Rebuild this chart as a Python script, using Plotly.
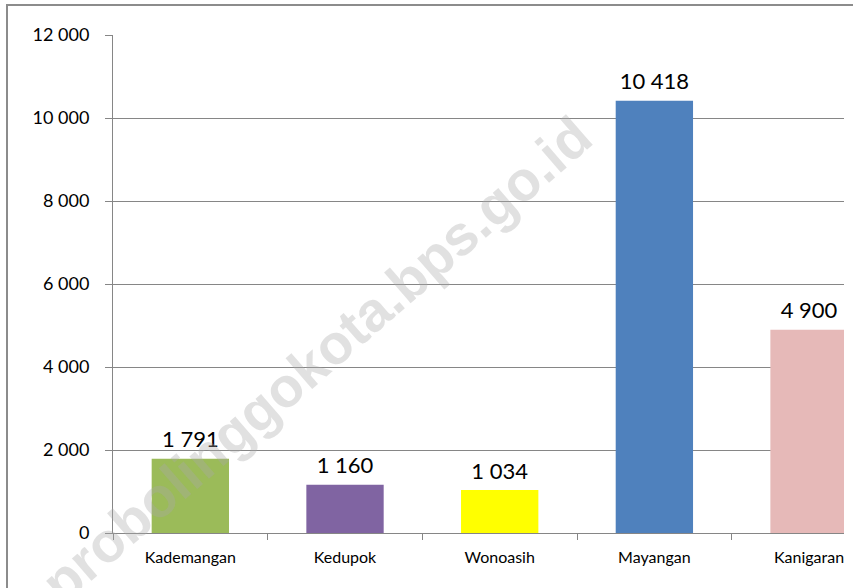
import plotly.graph_objects as go

categories = ["Kademangan", "Kedupok", "Wonoasih", "Mayangan", "Kanigaran"]
values = [1791, 1160, 1034, 10418, 4900]
colors = ["#9BBB59", "#8064A2", "#FFFF00", "#4F81BD", "#E6B9B8"]
tick_vals = [0, 2000, 4000, 6000, 8000, 10000, 12000]
tick_text = ["0", "2 000", "4 000", "6 000", "8 000", "10 000", "12 000"]
labels = [f"{v:,}".replace(",", " ") for v in values]
watermark = "probolinggokota.bps.go.id"

W, H = 853, 588
ml, mr, mt, mb = 113, 9, 35, 55
pw, ph = W - ml - mr, H - mt - mb

def px_x(x):
    return (x - ml) / pw

def px_y(y):
    return (H - mb - y) / ph

fig = go.Figure()
fig.add_trace(go.Bar(
    x=categories, y=values, marker=dict(color=colors, line=dict(width=0)),
    width=0.5, hoverinfo="skip",
))
fig.add_trace(go.Scatter(
    x=categories, y=values, mode="markers+text", text=labels,
    textposition="top center", cliponaxis=True,
    marker=dict(size=8, color="rgba(0,0,0,0)"),
    textfont=dict(family="Lato", size=22, color="#000000"),
    hoverinfo="skip",
))

fig.update_layout(
    width=W, height=H,
    margin=dict(l=ml, r=mr, t=mt, b=mb, autoexpand=False),
    paper_bgcolor="white", plot_bgcolor="white",
    showlegend=False,
    font=dict(family="Lato", color="#000000"),
)
fig.update_xaxes(
    range=[-0.5, 4.226], showline=True, linecolor="#868686", linewidth=1,
    ticks="outside", tickson="boundaries", ticklen=6, tickcolor="#868686",
    tickfont=dict(family="Lato", size=16, color="#000000"),
    ticklabelstandoff=10, showgrid=False, fixedrange=True, automargin=False,
)
fig.update_yaxes(
    range=[0, 12000], tickvals=tick_vals, ticktext=tick_text,
    showline=True, linecolor="#868686", linewidth=1,
    ticks="outside", ticklen=7, tickcolor="#868686",
    tickfont=dict(family="Lato", size=18, color="#000000"),
    ticklabelstandoff=12, automargin=False,
    showgrid=True, gridcolor="#868686", gridwidth=1, zeroline=False,
)

# outer chart border (cropped on right and bottom)
fig.add_shape(type="rect", xref="paper", yref="paper",
              x0=px_x(7), x1=px_x(900), y0=px_y(640), y1=px_y(5),
              line=dict(color="#8C8C8C", width=2), layer="below")

fig.add_annotation(
    text=watermark, xref="paper", yref="paper",
    x=px_x(316), y=px_y(359), xanchor="center", yanchor="middle",
    textangle=-41, showarrow=False,
    font=dict(family="Liberation Sans", size=56, color="rgba(170,170,170,0.35)", weight="bold"),
)

fig.write_html(
    "out.html",
    config={"displayModeBar": False},
    post_script="document.body.style.margin='0';document.body.style.overflow='hidden';",
)
